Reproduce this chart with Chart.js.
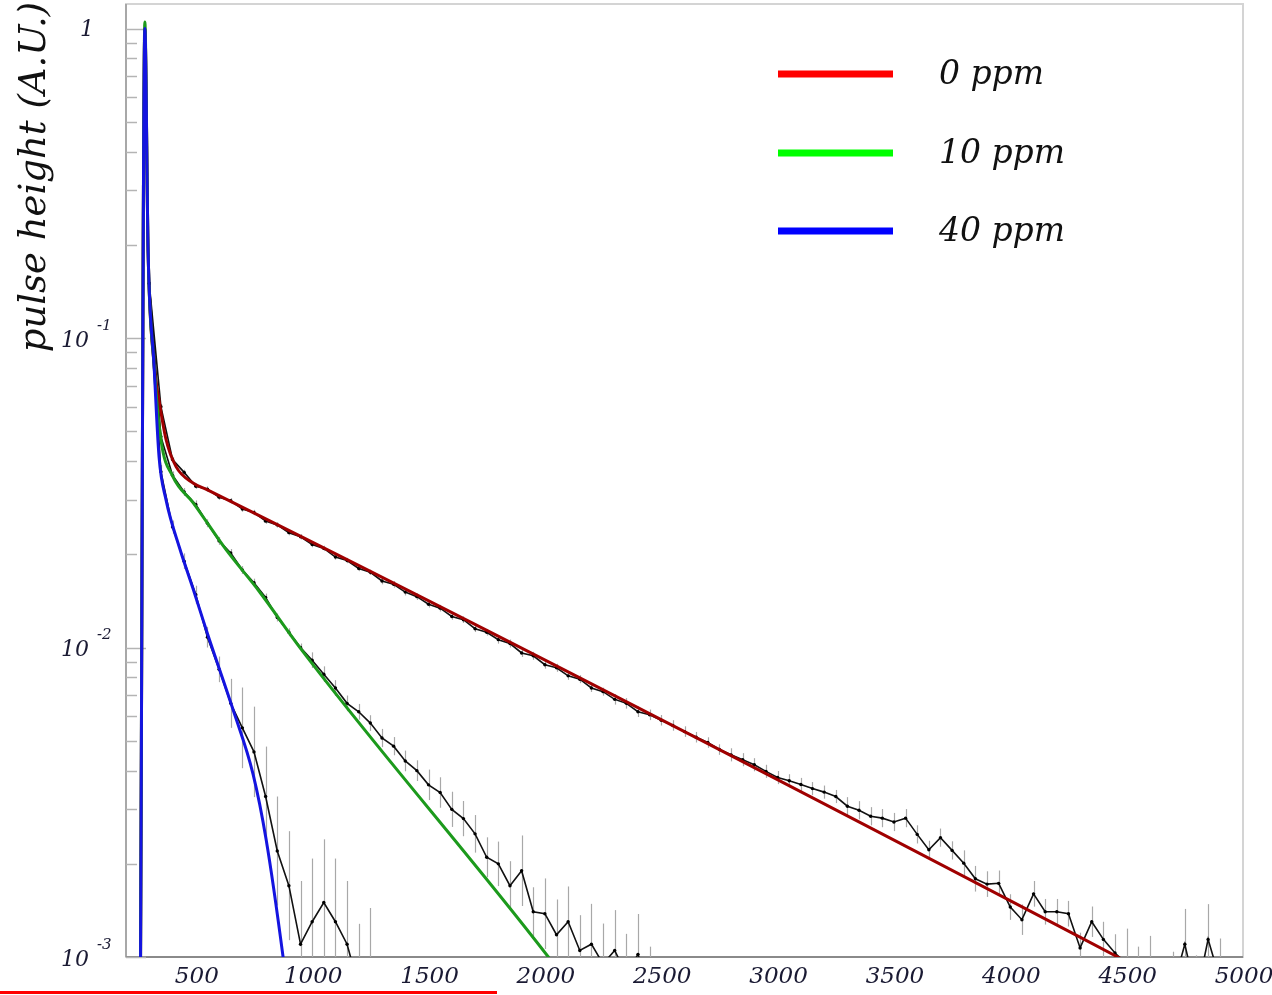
<!DOCTYPE html>
<html>
<head>
<meta charset="utf-8">
<script src="https://cdn.jsdelivr.net/npm/chart.js@4.4.1/dist/chart.umd.min.js"></script>
<style>
  html, body { margin: 0; padding: 0; background: #fff; }
</style>
</head>
<body>
<canvas id="pulseChart" width="1272" height="995"></canvas>
<script>
// series labels
const seriesNames = ['0 ppm', '10 ppm', '40 ppm'];

// fitted curves (x = time, y = pulse height)
const fitRedX = [262, 281, 295, 320, 342, 372, 415, 488, 550, 4462, 4600];
const fitRedY = [0.0008, 1.0, 0.19, 0.083, 0.063, 0.047, 0.0384, 0.034, 0.0323, 0.001, 0.00088];

const fitGreenX = [262, 281, 295, 320, 350, 402, 488, 630, 772, 953, 2015, 2100];
const fitGreenY = [0.0008, 1.05, 0.19, 0.083, 0.047, 0.0356, 0.0294, 0.0207, 0.0152, 0.00986, 0.001, 0.00082];

const fitBlueX = [262, 281, 295, 320, 342, 372, 430, 488, 548, 660, 746, 802, 875, 900];
const fitBlueY = [0.0008, 1.0, 0.19, 0.083, 0.0413, 0.030, 0.021, 0.0155, 0.0112, 0.0063, 0.0039, 0.0024, 0.001, 0.0007];

// measured data, binned
const binX = [300, 350, 400, 450, 500, 550, 600, 650, 700, 750, 800, 850, 900, 950, 1000, 1050, 1100, 1150, 1200, 1250,
  1300, 1350, 1400, 1450, 1500, 1550, 1600, 1650, 1700, 1750, 1800, 1850, 1900, 1950, 2000, 2050, 2100, 2150, 2200, 2250,
  2300, 2350, 2400, 2450, 2500, 2550, 2600, 2650, 2700, 2750, 2800, 2850, 2900, 2950, 3000, 3050, 3100, 3150, 3200, 3250,
  3300, 3350, 3400, 3450, 3500, 3550, 3600, 3650, 3700, 3750, 3800, 3850, 3900, 3950, 4000, 4050, 4100, 4150, 4200, 4250,
  4300, 4350, 4400, 4450, 4500, 4550, 4600, 4650, 4700, 4750, 4800, 4850, 4900, 4950];

const redData = [0.15, 0.060, 0.0405, 0.0368, 0.0332, 0.0325, 0.0306, 0.0298, 0.0280, 0.0273,
  0.0256, 0.0249, 0.0235, 0.0228, 0.0215, 0.0209, 0.0196, 0.0191, 0.0180, 0.0175,
  0.0164, 0.0160, 0.0151, 0.0146, 0.0138, 0.0134, 0.0126, 0.0123, 0.0115, 0.0112,
  0.0106, 0.0103, 0.0096, 0.0094, 0.0088, 0.0086, 0.0081, 0.0079, 0.0074, 0.0072,
  0.0068, 0.0066, 0.0062, 0.00606, 0.00582, 0.00560, 0.00535, 0.00513, 0.00493, 0.00468,
  0.00450, 0.00434, 0.00418, 0.00398, 0.00380, 0.00371, 0.00361, 0.00350, 0.00341, 0.00330,
  0.00307, 0.00298, 0.00285, 0.00281, 0.00273, 0.00281, 0.00249, 0.00222, 0.00243, 0.00221,
  0.00201, 0.00179, 0.00172, 0.00173, 0.00145, 0.00132, 0.00160, 0.00140, 0.00140, 0.00138,
  0.00107, 0.00130, 0.00114, 0.00103, 0.00095, 0.00080, 0.00090, 0.00070, 0.00080, 0.00110,
  0.00075, 0.00114, 0.00085, 0.00070];
const redErr = [0.02, 0.02, 0.02, 0.02, 0.02, 0.02, 0.02, 0.02, 0.02, 0.02,
  0.02, 0.02, 0.02, 0.02, 0.02, 0.02, 0.02, 0.02, 0.02, 0.02,
  0.025, 0.025, 0.025, 0.025, 0.025, 0.025, 0.025, 0.025, 0.025, 0.025,
  0.03, 0.03, 0.03, 0.03, 0.03, 0.03, 0.03, 0.03, 0.03, 0.03,
  0.04, 0.04, 0.04, 0.04, 0.04, 0.04, 0.04, 0.04, 0.04, 0.04,
  0.05, 0.05, 0.05, 0.05, 0.05, 0.05, 0.05, 0.05, 0.05, 0.05,
  0.07, 0.07, 0.07, 0.07, 0.07, 0.07, 0.07, 0.07, 0.07, 0.07,
  0.1, 0.1, 0.1, 0.1, 0.1, 0.12, 0.1, 0.1, 0.1, 0.1,
  0.12, 0.12, 0.14, 0.15, 0.3, 0.35, 0.3, 0.35, 0.3, 0.3,
  0.35, 0.3, 0.35, 0.35];

const greenData = [0.15, 0.048, 0.0360, 0.0318, 0.0290, 0.0252, 0.0221, 0.0202, 0.0178, 0.0162,
  0.0145, 0.0125, 0.0112, 0.0100, 0.0091, 0.0082, 0.0074, 0.0066, 0.0062, 0.0057,
  0.0051, 0.0048, 0.0043, 0.0040, 0.0036, 0.0034, 0.0030, 0.0028, 0.0025, 0.0021,
  0.0020, 0.0017, 0.0019, 0.0014, 0.00138, 0.00118, 0.00130, 0.00105, 0.00110, 0.00095,
  0.00105, 0.00088, 0.00102, 0.00080];
const greenErr = [0.03, 0.03, 0.03, 0.03, 0.03, 0.03, 0.03, 0.03, 0.03, 0.03,
  0.03, 0.03, 0.03, 0.03, 0.06, 0.06, 0.06, 0.06, 0.06, 0.06,
  0.07, 0.07, 0.08, 0.08, 0.12, 0.12, 0.14, 0.14, 0.15, 0.16,
  0.18, 0.2, 0.3, 0.2, 0.3, 0.3, 0.3, 0.3, 0.35, 0.35,
  0.35, 0.35, 0.35, 0.35];

const blueData = [0.15, 0.037, 0.0245, 0.0190, 0.0148, 0.0108, 0.0085, 0.0066, 0.0055, 0.0046,
  0.0033, 0.0022, 0.0017, 0.0011, 0.0013, 0.0015, 0.0013, 0.0011, 0.0008, 0.0009];
const blueErr = [0.05, 0.05, 0.05, 0.06, 0.07, 0.08, 0.1, 0.2, 0.35, 0.4,
  0.45, 0.5, 0.5, 0.6, 0.6, 0.6, 0.6, 0.6, 0.6, 0.6];

// axis labels
const xTickLabels = ['500', '1000', '1500', '2000', '2500', '3000', '3500', '4000', '4500', '5000'];
const yTitle = 'pulse height (A.U.)';

const legendColors = ['#ff0000', '#00ff00', '#0000ff'];
const fitColors = ['#a00000', '#1c9a1c', '#1414e0'];

function points(xs, ys) {
  return ys.map(function (y, i) { return { x: xs[i], y: y }; });
}

const serif = '"DejaVu Serif", serif';
const inkColor = '#1a1a33';

const decorPlugin = {
  id: 'decor',
  beforeDatasetsDraw(chart) {
    const c = chart.ctx, a = chart.chartArea;
    const xs = chart.scales.x, ys = chart.scales.y;

    // frame
    c.save();
    c.lineWidth = 2;
    c.strokeStyle = '#d4d4d4';
    c.strokeRect(a.left, a.top, a.right - a.left, a.bottom - a.top);
    c.strokeStyle = '#a8a8a8';
    c.beginPath(); c.moveTo(a.left, a.top); c.lineTo(a.left, a.bottom); c.stroke();
    c.strokeStyle = '#8a8a8a';
    c.beginPath(); c.moveTo(a.left, a.bottom); c.lineTo(a.right, a.bottom); c.stroke();

    // y ticks (inside, pointing right)
    c.lineWidth = 1.5;
    c.strokeStyle = '#b4b4b4';
    ys.ticks.forEach(function (t) {
      const v = t.value;
      if (v < ys.min || v > ys.max) return;
      const m = v / Math.pow(10, Math.floor(Math.log10(v) + 1e-9));
      if (Math.abs(m - Math.round(m)) > 1e-6) return;
      const py = Math.round(ys.getPixelForValue(v)) + 0.5;
      const len = Math.round(m) === 1 ? 20 : 11;
      c.beginPath(); c.moveTo(a.left, py); c.lineTo(a.left + len, py); c.stroke();
    });

    // x ticks (inside, pointing up)
    xs.ticks.forEach(function (t) {
      const v = t.value;
      if (v % 250 !== 0 || v <= xs.min || v >= xs.max) return;
      const px = Math.round(xs.getPixelForValue(v)) + 0.5;
      const len = v % 500 === 0 ? 19 : 10;
      c.beginPath(); c.moveTo(px, a.bottom); c.lineTo(px, a.bottom - len); c.stroke();
    });

    // error bars of the measured data
    c.beginPath();
    c.rect(a.left, a.top, a.right - a.left, a.bottom - a.top);
    c.clip();
    c.strokeStyle = '#a8a8a8';
    c.lineWidth = 1.2;
    chart.data.datasets.forEach(function (ds) {
      if (!ds.errors) return;
      ds.data.forEach(function (p, i) {
        const e = ds.errors[i];
        const px = Math.round(xs.getPixelForValue(p.x)) + 0.5;
        c.beginPath();
        c.moveTo(px, ys.getPixelForValue(p.y * (1 + e)));
        c.lineTo(px, ys.getPixelForValue(p.y / (1 + e)));
        c.stroke();
      });
    });
    c.restore();
  },
  afterDraw(chart) {
    const c = chart.ctx, a = chart.chartArea;
    const xs = chart.scales.x, ys = chart.scales.y;
    c.save();
    c.fillStyle = inkColor;

    // x tick labels
    c.font = 'italic 23px ' + serif;
    c.textAlign = 'center';
    c.textBaseline = 'middle';
    xTickLabels.forEach(function (lab) {
      c.fillText(lab, xs.getPixelForValue(Number(lab)) + 1, 977);
    });

    // y tick labels, powers of ten
    ys.ticks.forEach(function (t) {
      const v = t.value;
      if (v < ys.min || v > ys.max) return;
      const exp = Math.round(Math.log10(v));
      if (Math.abs(Math.log10(v) - exp) > 1e-6) return;
      const py = ys.getPixelForValue(v);
      c.textBaseline = 'middle';
      if (exp === 0) {
        c.font = 'italic 22px ' + serif;
        c.textAlign = 'right';
        c.fillText('1', 94, py + 2);
      } else {
        c.font = 'italic 22px ' + serif;
        c.textAlign = 'right';
        c.fillText('10', 89, py + 3);
        c.font = 'italic 15px ' + serif;
        c.textAlign = 'left';
        c.fillText('-' + (-exp), 97, py - 12);
      }
    });

    // y axis title
    c.save();
    c.translate(35, 177);
    c.rotate(-Math.PI / 2);
    c.font = 'italic 37px ' + serif;
    c.fillStyle = '#111';
    c.textAlign = 'center';
    c.textBaseline = 'middle';
    c.fillText(yTitle, 0, 0);
    c.restore();

    // legend
    const rows = [74, 153, 231];
    c.font = 'italic 33px ' + serif;
    c.textAlign = 'left';
    c.textBaseline = 'middle';
    seriesNames.forEach(function (name, i) {
      c.fillStyle = legendColors[i];
      c.fillRect(778, rows[i] - 3.5, 115, 7);
      c.fillStyle = '#111';
      c.fillText(name, 939, rows[i] + 1);
    });

    // underline below the figure
    c.fillStyle = '#ff0000';
    c.fillRect(0, 991, 497, 3);
    c.restore();
  }
};

function dataSet(values, errs) {
  return {
    data: points(binX, values),
    errors: errs,
    borderColor: '#111',
    borderWidth: 1.6,
    pointRadius: 1.7,
    pointBorderWidth: 0,
    pointBackgroundColor: '#000',
    tension: 0,
    clip: 0,
    order: 5
  };
}

function fitSet(xs, ys, color, order) {
  return {
    data: points(xs, ys),
    borderColor: color,
    borderWidth: 3,
    pointRadius: 0,
    cubicInterpolationMode: 'monotone',
    clip: 0,
    order: order
  };
}

const ctx = document.getElementById('pulseChart').getContext('2d');
const pulseChart = new Chart(ctx, {
  type: 'line',
  data: {
    datasets: [
      dataSet(redData, redErr),
      dataSet(greenData, greenErr),
      dataSet(blueData, blueErr),
      fitSet(fitRedX, fitRedY, fitColors[0], 3),
      fitSet(fitGreenX, fitGreenY, fitColors[1], 2),
      fitSet(fitBlueX, fitBlueY, fitColors[2], 1)
    ]
  },
  options: {
    responsive: false,
    animation: false,
    events: [],
    layout: { padding: { left: 126, right: 29, top: 4, bottom: 38 } },
    plugins: { legend: { display: false }, tooltip: { enabled: false } },
    scales: {
      x: { type: 'linear', display: false, min: 200, max: 5000, ticks: { stepSize: 250 } },
      y: { type: 'logarithmic', display: false, min: 0.001, max: 1.2 }
    }
  },
  plugins: [decorPlugin]
});
</script>
</body>
</html>
